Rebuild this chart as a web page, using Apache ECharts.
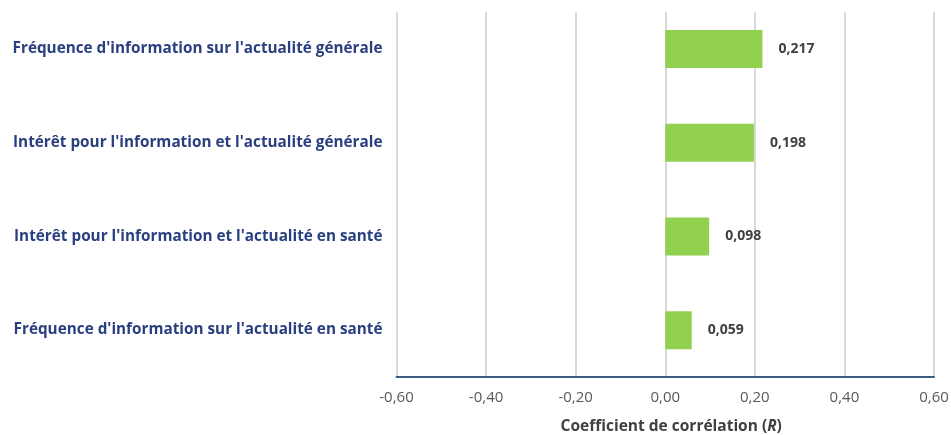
<!DOCTYPE html>
<html><head><meta charset="utf-8">
<script src="https://cdn.jsdelivr.net/npm/echarts@6/dist/echarts.min.js"></script>
<style>html,body{margin:0;padding:0;background:#fff}#c{width:951px;height:435px}</style>
</head><body><div id="c"></div>
<script>
const categories = [
  "Fréquence d'information sur l'actualité générale",
  "Intérêt pour l'information et l'actualité générale",
  "Intérêt pour l'information et l'actualité en santé",
  "Fréquence d'information sur l'actualité en santé"
];
const values = [0.217, 0.198, 0.098, 0.059];
const xMin = -0.6, xMax = 0.6, xStep = 0.2;

const fmt = (v, d) => v.toFixed(d).replace('.', ',');
const FONT = '"Open Sans", sans-serif';

const chart = echarts.init(document.getElementById('c'));
chart.setOption({
  animation: false,
  grid: [
    {left: 396.5, right: 17, top: 2, bottom: 58, containLabel: false, outerBoundsMode: 'none'},
    {left: 396.5, right: 17, top: 12, bottom: 58, containLabel: false, outerBoundsMode: 'none'}
  ],
  xAxis: [
    {
      type: 'value', gridIndex: 0, min: xMin, max: xMax, interval: xStep,
      axisLine: {show: true, lineStyle: {color: '#3b5b82', width: 2}},
      axisTick: {show: false},
      splitLine: {show: false},
      axisLabel: {color: '#595959', fontSize: 15, fontFamily: FONT, margin: 13,
        formatter: v => fmt(v, 2)},
      name: '{a|Coefficient de corrélation (}{b|R}{a|)}',
      nameLocation: 'middle', nameGap: 42,
      nameTextStyle: {
        padding: [0, 0, 0, 12],
        rich: {
          a: {fontSize: 15.5, fontWeight: 'bold', color: '#404040', fontFamily: FONT},
          b: {fontSize: 15.5, fontWeight: 'bold', fontStyle: 'italic', color: '#404040', fontFamily: FONT}
        }
      }
    },
    {
      type: 'value', gridIndex: 1, min: xMin, max: xMax, interval: xStep,
      axisLine: {show: false}, axisTick: {show: false}, axisLabel: {show: false},
      splitLine: {show: true, lineStyle: {color: '#d9d9d9', width: 2}}
    }
  ],
  yAxis: [
    {
      type: 'category', gridIndex: 0, data: categories, inverse: true,
      axisLine: {show: false}, axisTick: {show: false},
      axisLabel: {color: '#2a3f7f', fontSize: 15.3, fontWeight: 'bold', fontFamily: FONT, margin: 14}
    },
    {
      type: 'category', gridIndex: 1, data: categories, inverse: true, show: false
    }
  ],
  series: [{
    type: 'bar', xAxisIndex: 0, yAxisIndex: 0,
    data: values, barWidth: 38,
    itemStyle: {color: '#92d050'},
    label: {
      show: true, position: 'right', distance: 16,
      color: '#404040', fontSize: 14, fontWeight: 'bold', fontFamily: FONT,
      formatter: p => fmt(p.value, 3)
    }
  }]
});
</script></body></html>
